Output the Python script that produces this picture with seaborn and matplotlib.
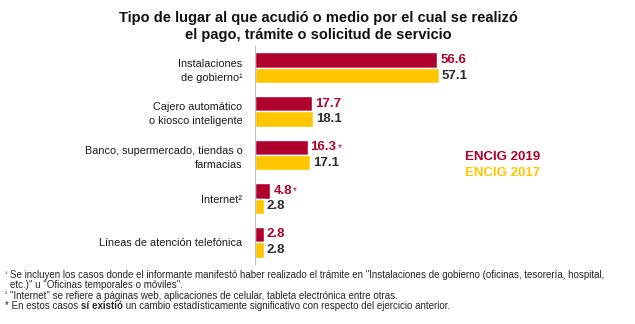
import matplotlib
matplotlib.use("Agg")
import matplotlib.pyplot as plt
import seaborn as sns
import pandas as pd

categories = ["Instalaciones\nde gobierno¹", "Cajero automático\no kiosco inteligente",
              "Banco, supermercado, tiendas o\nfarmacias", "Internet²",
              "Líneas de atención telefónica"]
series = ["ENCIG 2019", "ENCIG 2017"]
v2019 = [56.6, 17.7, 16.3, 4.8, 2.8]
v2017 = [57.1, 18.1, 17.1, 2.8, 2.8]
sig2019 = [False, False, True, True, False]

RED = "#B0002E"
YEL = "#FFC600"
DARK = "#2b2b2b"

sns.set_theme(style="white")
plt.rcParams['font.family'] = ['Liberation Sans', 'DejaVu Sans']

df = pd.DataFrame({
    "cat": categories * 2,
    "serie": [series[0]] * 5 + [series[1]] * 5,
    "val": v2019 + v2017,
})

fig = plt.figure(figsize=(6.35, 3.24), dpi=100)
ax = fig.add_axes([255/635, (324-264)/324, 345/635, 218/324])
sns.barplot(data=df, y="cat", x="val", hue="serie", order=categories,
            hue_order=series, palette=[RED, YEL], width=0.71, ax=ax,
            legend=False, saturation=1, orient="h")
ax.set_xlim(0, 107)
ax.set_ylim(4.5, -0.5)
ax.set_xlabel("")
ax.set_ylabel("")
ax.set_xticks([])
for s in ["top", "right", "bottom"]:
    ax.spines[s].set_visible(False)
ax.spines["left"].set_color("#bfbfbf")
ax.spines["left"].set_linewidth(0.8)
ax.set_yticks(range(5))
ax.set_yticklabels(categories, fontsize=7.8, color="#1a1a1a", linespacing=1.5)
ax.tick_params(axis="y", length=0, pad=9)
ax.set_yticks([i + 0.5 for i in range(4)], minor=True)
ax.tick_params(axis="y", which="minor", length=4, color="#bfbfbf", width=0.8, direction="out")

conts = ax.containers
for cont, vals, col, sigs in [(conts[0], v2019, RED, sig2019), (conts[1], v2017, DARK, [False]*5)]:
    for bar, v, s in zip(cont, vals, sigs):
        y = bar.get_y() + bar.get_height() / 2
        t = ax.annotate(f"{v:.1f}", xy=(bar.get_width(), y), xytext=(2, 0),
                        textcoords="offset points", va="center", ha="left",
                        fontsize=9.5, fontweight="bold", color=col)
        if s:
            ax.annotate("*", xy=(1, 1), xycoords=t, xytext=(1, -1), textcoords="offset points",
                        va="top", ha="left", fontsize=7, color=col)

fig.text(465/635, 1 - 157/324, "ENCIG 2019", color=RED, fontsize=9.5, fontweight="bold", va="center")
fig.text(465/635, 1 - 173/324, "ENCIG 2017", color=YEL, fontsize=9.5, fontweight="bold", va="center")

fig.text(318/635, 1 - 18/324, "Tipo de lugar al que acudió o medio por el cual se realizó",
         ha="center", va="center", fontsize=10.5, fontweight="bold", color="#111111")
fig.text(318/635, 1 - 35/324, "el pago, trámite o solicitud de servicio",
         ha="center", va="center", fontsize=10.5, fontweight="bold", color="#111111")

fn_font = ['Liberation Sans', 'DejaVu Sans']
fs = 7.05
fig.text(5/635, 1 - 274/324, "¹", fontsize=5, va="center", family=fn_font)
fig.text(10/635, 1 - 275/324,
         "Se incluyen los casos donde el informante manifestó haber realizado el trámite en \"Instalaciones de gobierno (oficinas, tesorería, hospital,",
         fontsize=fs, va="center", family=fn_font)
fig.text(10/635, 1 - 285/324, "etc.)\" u \"Oficinas temporales o móviles\".",
         fontsize=fs, va="center", family=fn_font)
fig.text(5/635, 1 - 295/324, "²", fontsize=5, va="center", family=fn_font)
fig.text(10/635, 1 - 296/324,
         "\"Internet\" se refiere a páginas web, aplicaciones de celular, tableta electrónica entre otras.",
         fontsize=fs, va="center", family=fn_font)

fig.canvas.draw()
r = fig.canvas.get_renderer()
parts = [("* En estos casos ", "normal"), ("sí existió", "bold"),
         (" un cambio estadísticamente significativo con respecto del ejercicio anterior.", "normal")]
x = 5 / 635
for txt, w in parts:
    t = fig.text(x, 1 - 306/324, txt, fontsize=fs, va="center", fontweight=w, family=fn_font)
    bb = t.get_window_extent(renderer=r)
    x += bb.width / fig.bbox.width

fig.savefig("out.png", dpi=100, facecolor="white")
